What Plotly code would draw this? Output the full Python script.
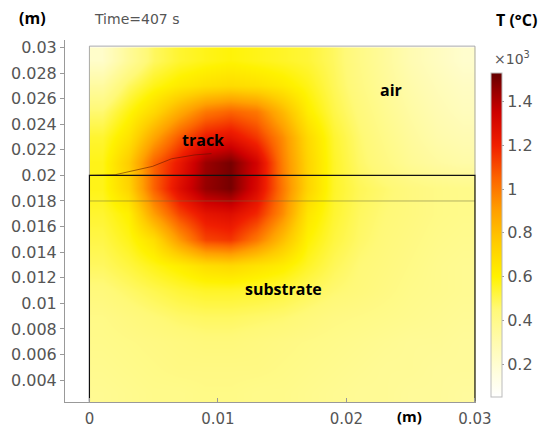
import plotly.graph_objects as go

# ---------------- data ----------------
x_centers = [0.001, 0.003, 0.005, 0.007, 0.009, 0.011, 0.013, 0.015,
             0.017, 0.019, 0.021, 0.023, 0.025, 0.027, 0.029]
y_centers = [0.003, 0.005, 0.007, 0.009, 0.011, 0.013, 0.015, 0.017,
             0.019, 0.021, 0.023, 0.025, 0.027, 0.029]

# temperature in 10^3 degC, rows bottom (y=0.003) to top (y=0.029)
temperature_kC = [
    [0.38, 0.39, 0.40, 0.40, 0.41, 0.41, 0.40, 0.40, 0.39, 0.38, 0.37, 0.37, 0.36, 0.36, 0.35],
    [0.39, 0.40, 0.41, 0.42, 0.42, 0.42, 0.42, 0.41, 0.40, 0.39, 0.38, 0.37, 0.37, 0.36, 0.36],
    [0.40, 0.41, 0.42, 0.43, 0.44, 0.44, 0.43, 0.42, 0.41, 0.40, 0.39, 0.38, 0.37, 0.37, 0.36],
    [0.41, 0.43, 0.45, 0.47, 0.48, 0.48, 0.47, 0.46, 0.44, 0.42, 0.41, 0.40, 0.39, 0.38, 0.37],
    [0.44, 0.47, 0.50, 0.53, 0.55, 0.55, 0.54, 0.52, 0.49, 0.46, 0.44, 0.42, 0.40, 0.39, 0.38],
    [0.48, 0.52, 0.57, 0.62, 0.68, 0.70, 0.66, 0.62, 0.55, 0.49, 0.45, 0.43, 0.41, 0.39, 0.38],
    [0.51, 0.57, 0.68, 0.92, 1.12, 1.15, 1.00, 0.80, 0.60, 0.52, 0.47, 0.44, 0.42, 0.40, 0.39],
    [0.54, 0.61, 0.90, 1.12, 1.25, 1.28, 1.18, 0.95, 0.65, 0.54, 0.48, 0.45, 0.43, 0.41, 0.40],
    [0.57, 0.72, 1.05, 1.28, 1.45, 1.50, 1.30, 1.00, 0.72, 0.55, 0.49, 0.46, 0.43, 0.41, 0.40],
    [0.57, 0.75, 1.05, 1.23, 1.44, 1.50, 1.33, 0.98, 0.72, 0.55, 0.47, 0.42, 0.37, 0.34, 0.32],
    [0.54, 0.66, 0.88, 1.08, 1.22, 1.26, 1.15, 0.95, 0.70, 0.54, 0.46, 0.40, 0.35, 0.31, 0.29],
    [0.46, 0.58, 0.70, 0.86, 1.00, 1.05, 1.00, 0.82, 0.62, 0.51, 0.44, 0.38, 0.33, 0.29, 0.26],
    [0.34, 0.48, 0.57, 0.63, 0.67, 0.69, 0.67, 0.63, 0.57, 0.49, 0.42, 0.36, 0.31, 0.27, 0.24],
    [0.22, 0.36, 0.48, 0.54, 0.57, 0.59, 0.57, 0.55, 0.53, 0.48, 0.41, 0.35, 0.29, 0.25, 0.21],
]

# geometry boundaries (m)
substrate_x = [0.0, 0.0, 0.03, 0.03]
substrate_y = [0.0023, 0.02, 0.02, 0.0023]
air_x = [0.0, 0.0, 0.03, 0.03]
air_y = [0.02, 0.0301, 0.0301, 0.02]
layer_x = [0.0, 0.03]
layer_y = [0.018, 0.018]
track_x = [0.0, 0.002, 0.0049, 0.0064, 0.0082, 0.0095]
track_y = [0.0200, 0.02005, 0.0207, 0.0213, 0.0216, 0.0217]

# axes ticks
x_tick_vals = [0, 0.01, 0.02, 0.03]
x_tick_text = ["0", "0.01", "0.02", "0.03"]
y_tick_vals = [0.004, 0.006, 0.008, 0.010, 0.012, 0.014, 0.016, 0.018,
               0.020, 0.022, 0.024, 0.026, 0.028, 0.030]
y_tick_text = ["0.004", "0.006", "0.008", "0.01", "0.012", "0.014", "0.016",
               "0.018", "0.02", "0.022", "0.024", "0.026", "0.028", "0.03"]
cbar_tick_vals = [0.2, 0.4, 0.6, 0.8, 1.0, 1.2, 1.4]
cbar_tick_text = ["0.2", "0.4", "0.6", "0.8", "1", "1.2", "1.4"]

# colour map (thermal light)
zmin, zmax = 0.05, 1.53
cs_values = [0.05, 0.15, 0.30, 0.45, 0.60, 0.75, 0.90, 1.05, 1.20, 1.35, 1.45, 1.53]
cs_colors = ["rgb(255,255,255)", "rgb(255,254,225)", "rgb(255,251,175)",
             "rgb(255,249,120)", "rgb(255,242,0)", "rgb(255,205,0)",
             "rgb(255,160,0)", "rgb(252,100,0)", "rgb(240,30,0)",
             "rgb(205,0,0)", "rgb(150,0,0)", "rgb(100,0,0)"]
colorscale = [[(v - zmin) / (zmax - zmin), c] for v, c in zip(cs_values, cs_colors)]

# ---------------- figure ----------------
W, H = 546, 428
ml, mr, mt, mb = 65, 70, 40, 26
plot_w = W - ml - mr
plot_h = H - mt - mb

tick_font = dict(family="DejaVu Sans", size=16, color="#555555")
xtick_font = dict(family="DejaVu Sans", size=15, color="#555555")
bold_font = dict(family="Open Sans", size=16, color="#000000", weight="bold")
bold_small = dict(family="Open Sans", size=15, color="#000000", weight="bold")

fig = go.Figure()

fig.add_trace(go.Heatmap(
    x=x_centers, y=y_centers, z=temperature_kC,
    zmin=zmin, zmax=zmax, zsmooth="best",
    colorscale=colorscale, hoverinfo="skip",
    colorbar=dict(
        x=(491 - ml) / plot_w, xanchor="left", xpad=0, ypad=0,
        y=(H - mb - 235) / plot_h, yanchor="middle",
        len=324, lenmode="pixels",
        thickness=11, thicknessmode="pixels",
        outlinewidth=1, outlinecolor="#bbbbbb",
        tickvals=cbar_tick_vals, ticktext=cbar_tick_text,
        ticks="outside", ticklen=2, tickcolor="#999999",
        tickfont=tick_font,
    ),
))

line_traces = [
    (air_x, air_y, "rgba(160,160,160,0.9)", 1),
    (layer_x, layer_y, "rgba(110,110,60,0.5)", 1),
    (track_x, track_y, "rgba(90,20,0,0.55)", 1),
    (substrate_x, substrate_y, "#111111", 1.2),
]
for xs, ys, col, wd in line_traces:
    fig.add_trace(go.Scatter(x=xs, y=ys, mode="lines",
                             line=dict(color=col, width=wd),
                             hoverinfo="skip", showlegend=False))

fig.update_xaxes(
    range=[-0.0019, 0.03008], showgrid=False, zeroline=False,
    showline=True, linecolor="#999999", linewidth=1,
    ticks="inside", ticklen=4, tickcolor="#999999",
    ticklabelstandoff=3,
    tickvals=x_tick_vals, ticktext=x_tick_text, tickfont=xtick_font,
)
fig.update_yaxes(
    range=[0.00229, 0.03058], showgrid=False, zeroline=False,
    showline=True, linecolor="#999999", linewidth=1,
    ticks="outside", ticklen=4, tickcolor="#999999",
    tickvals=y_tick_vals, ticktext=y_tick_text, tickfont=tick_font,
)

def px_to_paper(px, py):
    return (px - ml) / plot_w, (H - mb - py) / plot_h

annotations = []
for text, (px, py), font, anchor in [
    ("(m)", (32, 18), bold_font, "center"),
    ("Time=407 s", (92, 19), dict(family="DejaVu Sans", size=14, color="#555555"), "left"),
    ("T (°C)", (516, 20), bold_font, "center"),
    ("×10<sup>3</sup>", (512, 58), dict(family="DejaVu Sans", size=14, color="#555555"), "center"),
    ("(m)", (409, 416), bold_small, "center"),
]:
    ax_, ay_ = px_to_paper(px, py)
    annotations.append(dict(text=text, x=ax_, y=ay_, xref="paper", yref="paper",
                            xanchor=anchor, yanchor="middle", showarrow=False,
                            font=font))

for text, xv, yv in [("track", 0.0088, 0.0228), ("air", 0.0235, 0.0267),
                     ("substrate", 0.0151, 0.0111)]:
    annotations.append(dict(text=text, x=xv, y=yv, xref="x", yref="y",
                            showarrow=False, font=bold_font))

fig.update_layout(
    width=W, height=H,
    margin=dict(l=ml, r=mr, t=mt, b=mb, autoexpand=False),
    paper_bgcolor="white", plot_bgcolor="white",
    showlegend=False, annotations=annotations,
)

fig.write_html("out.html",
               config={"displayModeBar": False, "staticPlot": True},
               post_script="document.body.style.margin='0px';"
                           "document.body.style.overflow='hidden';")
